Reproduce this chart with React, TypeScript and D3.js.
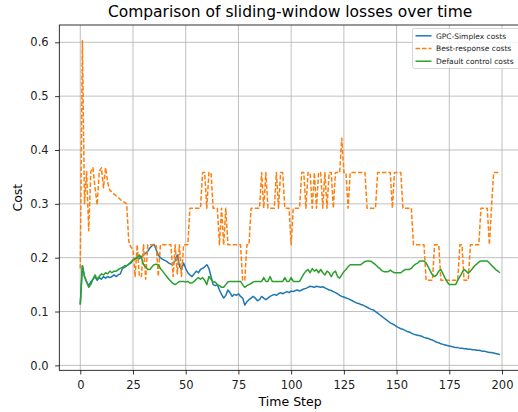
import React, { useRef, useEffect } from 'react';
import * as d3 from 'd3';

// time steps 0..199
const timeSteps = d3.range(200);

const gpcCosts = [
  0.113, 0.185, 0.165, 0.155, 0.148, 0.155, 0.160, 0.165, 0.158, 0.163,
  0.160, 0.165, 0.162, 0.165, 0.163, 0.165, 0.168, 0.165, 0.168, 0.170,
  0.180, 0.182, 0.185, 0.188, 0.190, 0.195, 0.198, 0.200, 0.198, 0.202,
  0.205, 0.208, 0.212, 0.218, 0.222, 0.225, 0.215, 0.205, 0.200, 0.197,
  0.195, 0.193, 0.190, 0.188, 0.187, 0.195, 0.205, 0.185, 0.178, 0.190,
  0.180, 0.172, 0.168, 0.165, 0.170, 0.175, 0.172, 0.178, 0.180, 0.183,
  0.187, 0.180, 0.165, 0.150, 0.148, 0.150, 0.140, 0.132, 0.125, 0.130,
  0.140, 0.135, 0.128, 0.132, 0.130, 0.133, 0.128, 0.125, 0.112, 0.118,
  0.122, 0.125, 0.128, 0.125, 0.120, 0.122, 0.128, 0.125, 0.122, 0.125,
  0.128, 0.130, 0.132, 0.130, 0.133, 0.135, 0.133, 0.135, 0.137, 0.135,
  0.138, 0.137, 0.139, 0.140, 0.138, 0.140, 0.142, 0.143, 0.145, 0.147,
  0.146, 0.145, 0.147, 0.146, 0.145, 0.146, 0.144, 0.142, 0.140, 0.139,
  0.137, 0.135, 0.133, 0.130, 0.128, 0.127, 0.125, 0.124, 0.122, 0.120,
  0.118, 0.116, 0.115, 0.113, 0.112, 0.110, 0.108, 0.106, 0.104, 0.103,
  0.100, 0.097, 0.094, 0.091, 0.088, 0.085, 0.082, 0.079, 0.077, 0.075,
  0.072, 0.070, 0.068, 0.067, 0.065, 0.063, 0.062, 0.060, 0.058, 0.057,
  0.056, 0.055, 0.054, 0.052, 0.051, 0.050, 0.048, 0.047, 0.045, 0.043,
  0.042, 0.040, 0.039, 0.038, 0.037, 0.036, 0.035, 0.034, 0.033, 0.033,
  0.032, 0.032, 0.031, 0.031, 0.030, 0.030, 0.029, 0.029, 0.028, 0.028,
  0.027, 0.026, 0.026, 0.025, 0.024, 0.024, 0.023, 0.022, 0.021, 0.020,
];

const bestResponseCosts = [
  0.180, 0.603, 0.300, 0.360, 0.250, 0.360, 0.367, 0.330, 0.298, 0.360,
  0.367, 0.330, 0.367, 0.340, 0.325, 0.322, 0.318, 0.315, 0.312, 0.308,
  0.305, 0.303, 0.300, 0.230, 0.220, 0.215, 0.165, 0.224, 0.165, 0.165,
  0.224, 0.160, 0.224, 0.224, 0.224, 0.224, 0.224, 0.165, 0.224, 0.224,
  0.224, 0.224, 0.224, 0.224, 0.165, 0.224, 0.170, 0.224, 0.165, 0.224,
  0.224, 0.224, 0.292, 0.292, 0.292, 0.292, 0.292, 0.292, 0.358, 0.358,
  0.292, 0.358, 0.358, 0.292, 0.292, 0.292, 0.224, 0.292, 0.224, 0.292,
  0.224, 0.224, 0.224, 0.224, 0.224, 0.224, 0.224, 0.158, 0.158, 0.224,
  0.224, 0.292, 0.292, 0.292, 0.292, 0.292, 0.358, 0.292, 0.358, 0.292,
  0.292, 0.292, 0.292, 0.358, 0.292, 0.358, 0.358, 0.292, 0.292, 0.292,
  0.224, 0.292, 0.292, 0.292, 0.292, 0.358, 0.358, 0.292, 0.358, 0.358,
  0.292, 0.358, 0.292, 0.358, 0.358, 0.292, 0.358, 0.292, 0.358, 0.358,
  0.292, 0.358, 0.358, 0.358, 0.422, 0.358, 0.358, 0.292, 0.358, 0.358,
  0.358, 0.358, 0.358, 0.358, 0.358, 0.358, 0.292, 0.292, 0.292, 0.292,
  0.292, 0.358, 0.358, 0.358, 0.358, 0.358, 0.358, 0.358, 0.292, 0.358,
  0.358, 0.358, 0.358, 0.292, 0.292, 0.292, 0.292, 0.292, 0.224, 0.224,
  0.224, 0.224, 0.224, 0.224, 0.158, 0.158, 0.158, 0.158, 0.224, 0.224,
  0.224, 0.158, 0.158, 0.158, 0.158, 0.158, 0.158, 0.158, 0.158, 0.158,
  0.224, 0.224, 0.158, 0.158, 0.158, 0.224, 0.224, 0.224, 0.224, 0.224,
  0.292, 0.292, 0.292, 0.292, 0.224, 0.292, 0.358, 0.358, 0.358, 0.358,
];

const defaultCosts = [
  0.113, 0.185, 0.165, 0.155, 0.145, 0.150, 0.160, 0.168, 0.160, 0.165,
  0.170, 0.168, 0.172, 0.170, 0.175, 0.172, 0.175, 0.175, 0.178, 0.180,
  0.182, 0.185, 0.185, 0.188, 0.192, 0.196, 0.198, 0.200, 0.205, 0.200,
  0.187, 0.183, 0.178, 0.178, 0.183, 0.187, 0.188, 0.187, 0.180, 0.175,
  0.170, 0.165, 0.160, 0.156, 0.152, 0.150, 0.153, 0.156, 0.156, 0.156,
  0.155, 0.156, 0.153, 0.153, 0.156, 0.160, 0.163, 0.160, 0.163, 0.158,
  0.150, 0.165, 0.160, 0.155, 0.155, 0.150, 0.148, 0.145, 0.145, 0.150,
  0.155, 0.156, 0.156, 0.156, 0.156, 0.156, 0.156, 0.150, 0.145, 0.148,
  0.150, 0.152, 0.155, 0.156, 0.156, 0.156, 0.156, 0.163, 0.156, 0.156,
  0.165, 0.156, 0.156, 0.156, 0.156, 0.156, 0.156, 0.163, 0.156, 0.156,
  0.163, 0.156, 0.156, 0.156, 0.156, 0.163, 0.170, 0.175, 0.178, 0.172,
  0.180, 0.175, 0.178, 0.172, 0.178, 0.172, 0.168, 0.175, 0.172, 0.165,
  0.172, 0.175, 0.165, 0.162, 0.168, 0.174, 0.178, 0.183, 0.187, 0.187,
  0.187, 0.187, 0.187, 0.187, 0.190, 0.193, 0.194, 0.194, 0.193, 0.190,
  0.187, 0.183, 0.180, 0.176, 0.174, 0.174, 0.174, 0.177, 0.174, 0.172,
  0.172, 0.172, 0.172, 0.175, 0.178, 0.178, 0.178, 0.180, 0.185, 0.188,
  0.190, 0.194, 0.194, 0.194, 0.190, 0.183, 0.175, 0.168, 0.165, 0.168,
  0.175, 0.178, 0.170, 0.162, 0.155, 0.150, 0.150, 0.150, 0.150, 0.158,
  0.165, 0.172, 0.178, 0.175, 0.171, 0.175, 0.180, 0.185, 0.188, 0.192,
  0.194, 0.194, 0.194, 0.194, 0.190, 0.186, 0.182, 0.178, 0.175, 0.172,
];

const xTicks = [0, 25, 50, 75, 100, 125, 150, 175, 200];
const yTicks = [0.0, 0.1, 0.2, 0.3, 0.4, 0.5, 0.6];

const seriesNames = ['GPC-Simplex costs', 'Best-response costs', 'Default control costs'];
const seriesColors = ['#1f77b4', '#ff7f0e', '#2ca02c'];

const App: React.FC = () => {
  const width = 518;
  const height = 412;
  // axes box (right side runs off the canvas like the original)
  const margin = { top: 25, left: 59.3, plotRight: 520.9, bottom: 370.3 };

  const svgRef = useRef<SVGSVGElement | null>(null);

  useEffect(() => {
    const svg = d3.select(svgRef.current);
    svg.selectAll('*').remove();

    const font = "'DejaVu Sans', sans-serif";
    const allSeries = [gpcCosts, bestResponseCosts, defaultCosts];

    // matplotlib style 5% padding
    const xPad = (d3.max(timeSteps)! - d3.min(timeSteps)!) * 0.05;
    const x = d3.scaleLinear()
      .domain([d3.min(timeSteps)! - xPad, d3.max(timeSteps)! + xPad])
      .range([margin.left, margin.plotRight]);

    const yMin = d3.min(allSeries.flat())!;
    const yMax = d3.max(allSeries.flat())!;
    const yPad = (yMax - yMin) * 0.05;
    const y = d3.scaleLinear()
      .domain([yMin - yPad, yMax + yPad])
      .range([margin.bottom, margin.top]);

    // grid
    const grid = svg.append('g');
    grid.selectAll('.vgrid')
      .data(xTicks)
      .enter()
      .append('line')
      .attr('x1', d => x(d)).attr('x2', d => x(d))
      .attr('y1', margin.top).attr('y2', margin.bottom)
      .attr('stroke', '#b0b0b0').attr('stroke-width', 0.8);
    grid.selectAll('.hgrid')
      .data(yTicks)
      .enter()
      .append('line')
      .attr('x1', margin.left).attr('x2', margin.plotRight)
      .attr('y1', d => y(d)).attr('y2', d => y(d))
      .attr('stroke', '#b0b0b0').attr('stroke-width', 0.8);

    // lines
    const lineGen = d3.line<number>()
      .x((d, i) => x(timeSteps[i]))
      .y(d => y(d));

    const clip = svg.append('defs').append('clipPath').attr('id', 'plot-clip');
    clip.append('rect')
      .attr('x', margin.left).attr('y', margin.top)
      .attr('width', margin.plotRight - margin.left)
      .attr('height', margin.bottom - margin.top);

    const plot = svg.append('g').attr('clip-path', 'url(#plot-clip)');
    allSeries.forEach((s, i) => {
      plot.append('path')
        .datum(s)
        .attr('d', lineGen)
        .attr('fill', 'none')
        .attr('stroke', seriesColors[i])
        .attr('stroke-width', 1.5)
        .attr('stroke-linejoin', 'round')
        .attr('stroke-dasharray', i === 1 ? '4.5,2' : null);
    });

    // spines
    const spine = svg.append('g').attr('stroke', 'black').attr('stroke-width', 0.8).attr('fill', 'none');
    spine.append('rect')
      .attr('x', margin.left).attr('y', margin.top)
      .attr('width', margin.plotRight - margin.left)
      .attr('height', margin.bottom - margin.top);

    // x axis
    const xAxis = d3.axisBottom(x).tickValues(xTicks).tickSize(4.2).tickPadding(6.5).tickFormat(d3.format('d'));
    const gx = svg.append('g')
      .attr('transform', `translate(0,${margin.bottom})`)
      .call(xAxis);
    gx.select('.domain').remove();
    gx.selectAll('text').attr('font-size', '11.5px').attr('font-family', font).attr('fill', '#222');
    gx.selectAll('line').attr('stroke-width', 0.8);

    // y axis
    const yAxis = d3.axisLeft(y).tickValues(yTicks).tickSize(4.2).tickPadding(6.5).tickFormat(d3.format('.1f'));
    const gy = svg.append('g')
      .attr('transform', `translate(${margin.left},0)`)
      .call(yAxis);
    gy.select('.domain').remove();
    gy.selectAll('text').attr('font-size', '11.5px').attr('font-family', font).attr('fill', '#222');
    gy.selectAll('line').attr('stroke-width', 0.8);

    // title + labels
    const midX = (margin.left + margin.plotRight) / 2;
    svg.append('text')
      .attr('x', midX).attr('y', 17)
      .attr('text-anchor', 'middle')
      .attr('font-family', font).attr('font-size', '15.5px')
      .text('Comparison of sliding-window losses over time');
    svg.append('text')
      .attr('x', midX).attr('y', 405.5)
      .attr('text-anchor', 'middle')
      .attr('font-family', font).attr('font-size', '12.5px')
      .text('Time Step');
    svg.append('text')
      .attr('transform', `translate(22,${(margin.top + margin.bottom) / 2}) rotate(-90)`)
      .attr('text-anchor', 'middle')
      .attr('font-family', font).attr('font-size', '12.5px')
      .text('Cost');

    // legend
    const legend = svg.append('g').attr('transform', 'translate(412.5,28.5)');
    legend.append('rect')
      .attr('width', 120).attr('height', 40).attr('rx', 2)
      .attr('fill', 'white').attr('fill-opacity', 0.8)
      .attr('stroke', '#cccccc').attr('stroke-width', 0.8);
    seriesNames.forEach((name, i) => {
      const ly = 7.3 + i * 12.7;
      legend.append('line')
        .attr('x1', 3).attr('x2', 19)
        .attr('y1', ly).attr('y2', ly)
        .attr('stroke', seriesColors[i]).attr('stroke-width', 1.5)
        .attr('stroke-dasharray', i === 1 ? '4.5,2' : null);
      legend.append('text')
        .attr('x', 23.5).attr('y', ly + 2.7)
        .attr('font-family', font).attr('font-size', '7.5px')
        .attr('fill', '#222')
        .text(name);
    });
  }, []);

  return (
    <svg
      ref={svgRef}
      width={width}
      height={height}
      style={{ position: 'absolute', left: 0, top: 0, background: 'white' }}
    />
  );
};

export default App;
